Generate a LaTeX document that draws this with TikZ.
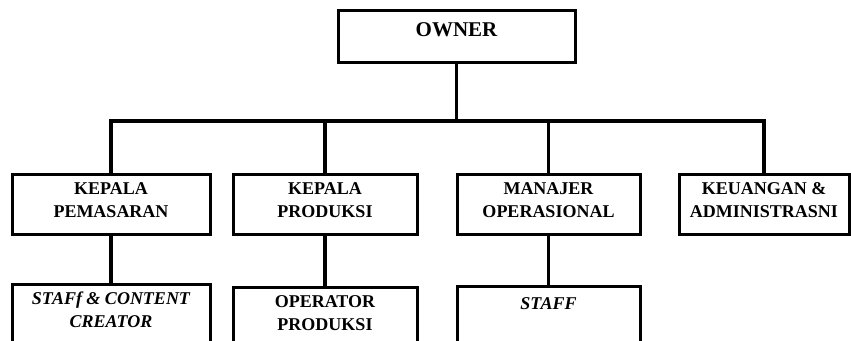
\documentclass[tikz,border=0pt]{standalone}
\usepackage{fontspec}
\setmainfont{Liberation Serif}
\usetikzlibrary{calc,positioning}

\begin{document}
\begin{tikzpicture}[
    x=1pt, y=1pt,
    box/.style   = {draw, line width=3pt, inner xsep=2pt, inner ysep=0pt,
                    align=center, anchor=north,
                    font=\bfseries\fontsize{18}{23}\selectfont,
                    text height=43pt, text depth=17pt},
    topbox/.style = {box, font=\bfseries\fontsize{21}{25}\selectfont,
                    text height=26pt, text depth=26pt},
    subbox/.style = {box, text depth=67pt},
    link/.style  = {line width=3.5pt}
  ]

  \useasboundingbox (0,0) rectangle (851,340);
  \clip (0,0) rectangle (851,340);

  \coordinate (origin) at (0,340);

  \node[topbox, minimum width=237pt] (OWN) at ($(origin)+(456.5,-9)$) {OWNER};

  \node[box, minimum width=198pt] (KPM) at ($(origin)+(111,-173)$) {KEPALA\\PEMASARAN};
  \node[box, minimum width=184pt] (KPD) at ($(origin)+(325,-173)$) {KEPALA\\PRODUKSI};
  \node[box, minimum width=183pt] (MOP) at ($(origin)+(548.5,-173)$) {MANAJER\\OPERASIONAL};
  \node[box, minimum width=170pt] (KEU) at ($(origin)+(764,-173)$) {KEUANGAN \&\\ADMINISTRASNI};

  \node[subbox, minimum width=198pt, text height=43pt] (SCC) at ($(origin)+(111,-283)$)
    {\itshape STAFf \& CONTENT\\\itshape CREATOR};
  \node[subbox, minimum width=184pt, text height=43pt] (OPR) at ($(origin)+(325,-286)$)
    {OPERATOR\\PRODUKSI};
  \node[subbox, minimum width=183pt, text height=23pt] (STF) at ($(origin)+(548.5,-285)$)
    {\itshape STAFF};

  \coordinate (bus) at ($(OWN.south)+(0,-57)$);

  \draw[link] (OWN.south) -- (bus);
  \draw[link] (KPM.north) |- (bus) -| (KEU.north);
  \foreach \n in {KPD,MOP} {
    \draw[link] (\n.north) -- (\n.north |- bus);
  }

  \draw[link] (KPM) -- (SCC);
  \draw[link] (KPD) -- (OPR);
  \draw[link] (MOP) -- (STF);

\end{tikzpicture}
\end{document}
